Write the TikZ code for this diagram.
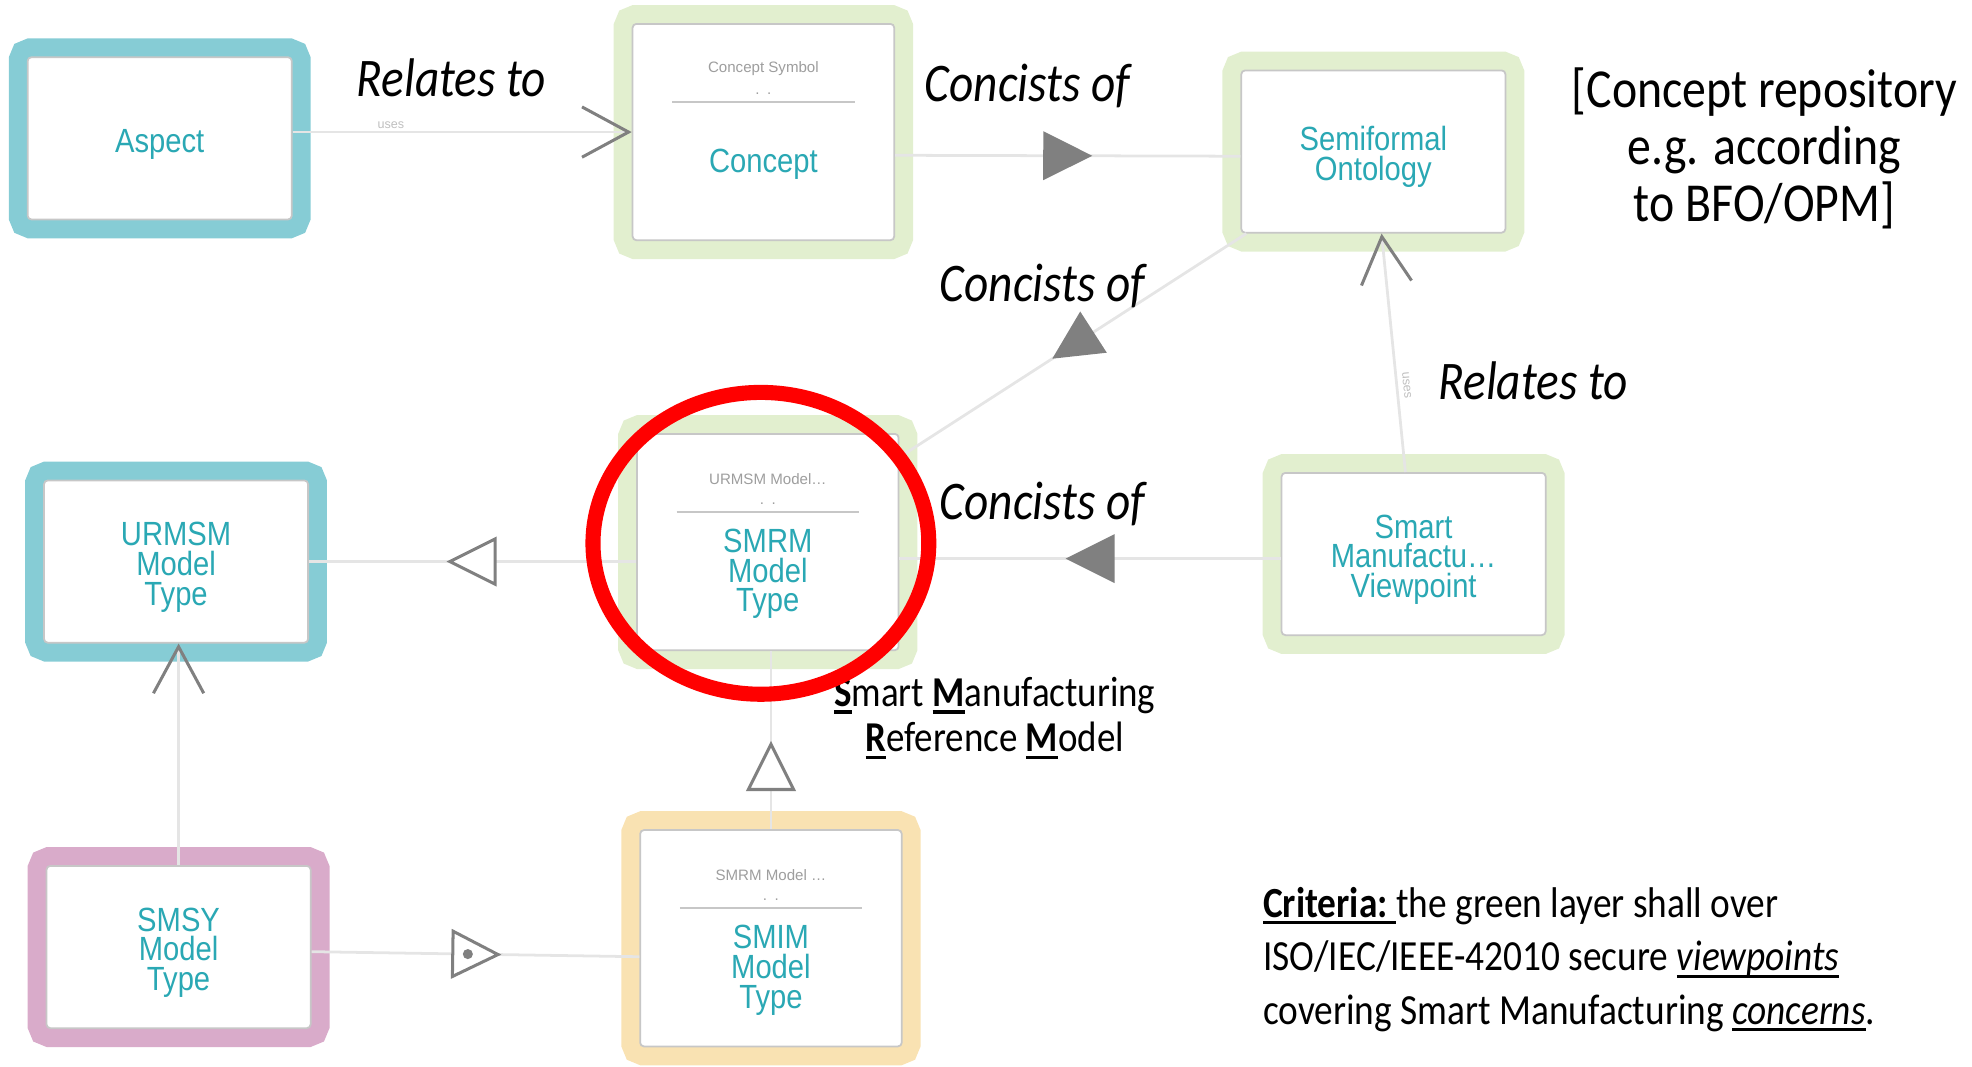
\documentclass[tikz,border=0pt]{standalone}
\usepackage{fontspec}
\setmainfont{Carlito}
\newfontfamily\boxfont{Liberation Sans}
\usetikzlibrary{arrows.meta,calc,decorations.markings}
\definecolor{TealClr}{rgb}{0.525,0.8,0.835}
\definecolor{GreenClr}{rgb}{0.886,0.937,0.812}
\definecolor{PinkClr}{rgb}{0.851,0.671,0.792}
\definecolor{SandClr}{rgb}{0.976,0.886,0.698}
\definecolor{TextClr}{rgb}{0.165,0.659,0.706}
\definecolor{ArrowClr}{gray}{0.5}
\definecolor{LineClr}{gray}{0.9}
\definecolor{BorderClr}{gray}{0.78}
\newcommand\ulmark[1]{\setbox0\hbox{#1}\rlap{\rule[-2.4pt]{\wd0}{1.1pt}}\box0}

\begin{document}
\begin{tikzpicture}[x=0.5pt,y=-0.5pt]
\tikzset{
  rim/.style={rectangle, rounded corners=1.5pt, fill=white, draw=BorderClr, line width=0.7pt,
    inner sep=0pt, preaction={draw=#1, line width=15pt}},
  plainbox/.style={minimum width=105pt, minimum height=64.5pt},
  classbox/.style={minimum width=104pt, minimum height=86pt},
  boxlabel/.style={font=\boxfont\fontsize{11.6}{10.3}\selectfont, text=TextClr, align=center, yscale=1.15, inner sep=0pt},
  headtxt/.style={font=\boxfont\fontsize{6}{7}\selectfont, text=black!38, inner sep=0pt},
  usestxt/.style={font=\boxfont\fontsize{5}{6}\selectfont, text=black!25, inner sep=0pt},
  note/.style={font=\fontsize{18.8}{21}\selectfont\itshape, yscale=1.15, inner sep=0pt},
  plaintxt/.style={yscale=1.15, inner sep=0pt},
  conn/.style={draw=LineClr, line width=1.1pt},
  chev/.style={-{Straight Barb[length=18.5pt, width=20pt, line width=1.2pt, color=ArrowClr]}},
  midfill/.style={postaction={decorate, decoration={markings, mark=at position #1 with
    {\fill[ArrowClr] (9.75pt,0pt) -- (-9.75pt,9.75pt) -- (-9.75pt,-9.75pt) -- cycle;}}}},
  midfill/.default=0.5,
  midopen/.style={postaction={decorate, decoration={markings, mark=at position #1 with
    {\draw[ArrowClr, fill=white, line width=1.2pt] (9pt,0pt) -- (-9pt,9pt) -- (-9pt,-9pt) -- cycle;}}}},
  midopen/.default=0.5,
  middot/.style={postaction={decorate, decoration={markings, mark=at position #1 with
    {\draw[ArrowClr, fill=white, line width=1.2pt] (9pt,0pt) -- (-9pt,9pt) -- (-9pt,-9pt) -- cycle;
     \fill[ArrowClr] (-3pt,0pt) circle (2pt);}}}},
  middot/.default=0.5
}
\useasboundingbox (0,0) rectangle (1568,848);

% boxes
\node[plainbox, rim=TealClr]  (aspect)     at (127,110)   {};
\node[classbox, rim=GreenClr] (concept)    at (607,105)   {};
\node[plainbox, rim=GreenClr] (semiformal) at (1092,120.5) {};
\node[plainbox, rim=TealClr]  (urmsm)      at (140,446.5) {};
\node[classbox, rim=GreenClr] (smrm)       at (610.5,431) {};
\node[plainbox, rim=GreenClr] (smart)      at (1124,440.5) {};
\node[plainbox, rim=PinkClr]  (smsy)       at (142,753)   {};
\node[classbox, rim=SandClr]  (smim)       at (613,746)   {};

\foreach \nm/\lbl in {aspect/Aspect, semiformal/Semiformal\\Ontology, urmsm/URMSM\\Model\\Type,
    smart/Smart\\Manufactu\ldots\\Viewpoint, smsy/SMSY\\Model\\Type}
  \node[boxlabel] (\nm-txt) at ($(\nm)+(0,4.5)$) {\lbl};

\foreach \nm/\hd/\lbl in {concept/Concept Symbol/Concept, smrm/URMSM Model\ldots/SMRM\\Model\\Type,
    smim/SMRM Model \ldots/SMIM\\Model\\Type}{
  \node[headtxt] (\nm-head) at ($(\nm.north)+(0,36.5)$) {\hd};
  \node[headtxt] (\nm-dots) at ($(\nm.north)+(0,56)$) {.\hspace{3pt}.};
  \draw[BorderClr, line width=0.8pt] ($(\nm.north)+(-72.5,63)$) -- ($(\nm.north)+(72.5,63)$);
  \node[boxlabel] (\nm-txt) at ($(\nm.north)+(0,112)$) {\lbl};
}

% connectors
\draw[conn, chev] (aspect.east |- concept.west) -- (concept.west)
  node[usestxt, pos=0.29, above=1pt] (uses-a) {uses};
\draw[conn, midfill] (concept.-10) -- (semiformal.182);
\draw[conn, midfill] (semiformal) -- (smrm);
\draw[conn, chev] (smart) -- (semiformal)
  node[usestxt, pos=0.36, sloped, above=2pt] (uses-b) {uses};
\draw[conn, midfill] (smart.182.2) -- (smart.182.2 -| smrm.east);
\draw[conn, midopen] (smrm.west |- urmsm.east) -- (urmsm.east);
\draw[conn, midopen=0.35] (smim.north) -- (smim.north |- smrm.south);
\draw[conn, middot] (smsy.-2.2) -- (smim.188.7);
\draw[conn, chev] (smsy.north) -- (smsy.north |- urmsm.south);

% texts
\node[note] (rel-a) at (359,62)   {Relates to};
\node[note] (con-a) at (817,68)   {Concists of};
\node[note] (con-b) at (829,227)  {Concists of};
\node[note] (con-c) at (829,401)  {Concists of};
\node[note] (rel-b) at (1219,303) {Relates to};
\node[plaintxt, align=center, font=\fontsize{19}{19.6}\selectfont] (repo) at (1403,118)
  {[Concept repository\\e.g. according\\to BFO/OPM]};
\node[plaintxt, align=center, font=\fontsize{14.7}{15.6}\selectfont] (smrm-name) at (791,571)
  {\ulmark{\textbf{S}}mart \ulmark{\textbf{M}}anufacturing\\\ulmark{\textbf{R}}eference \ulmark{\textbf{M}}odel};
\node[plaintxt, anchor=west, align=left, font=\fontsize{14.85}{18.5}\selectfont] (criteria) at (1004,763)
  {\ulmark{\textbf{Criteria:}\ }the green layer shall over\\ISO/IEC/IEEE-42010 secure \ulmark{\textit{viewpoints}}\\covering Smart Manufacturing \ulmark{\textit{concerns}}.};

\draw[red, line width=6pt] (605,432) ellipse [x radius=133.5, y radius=120];
\end{tikzpicture}
\end{document}
